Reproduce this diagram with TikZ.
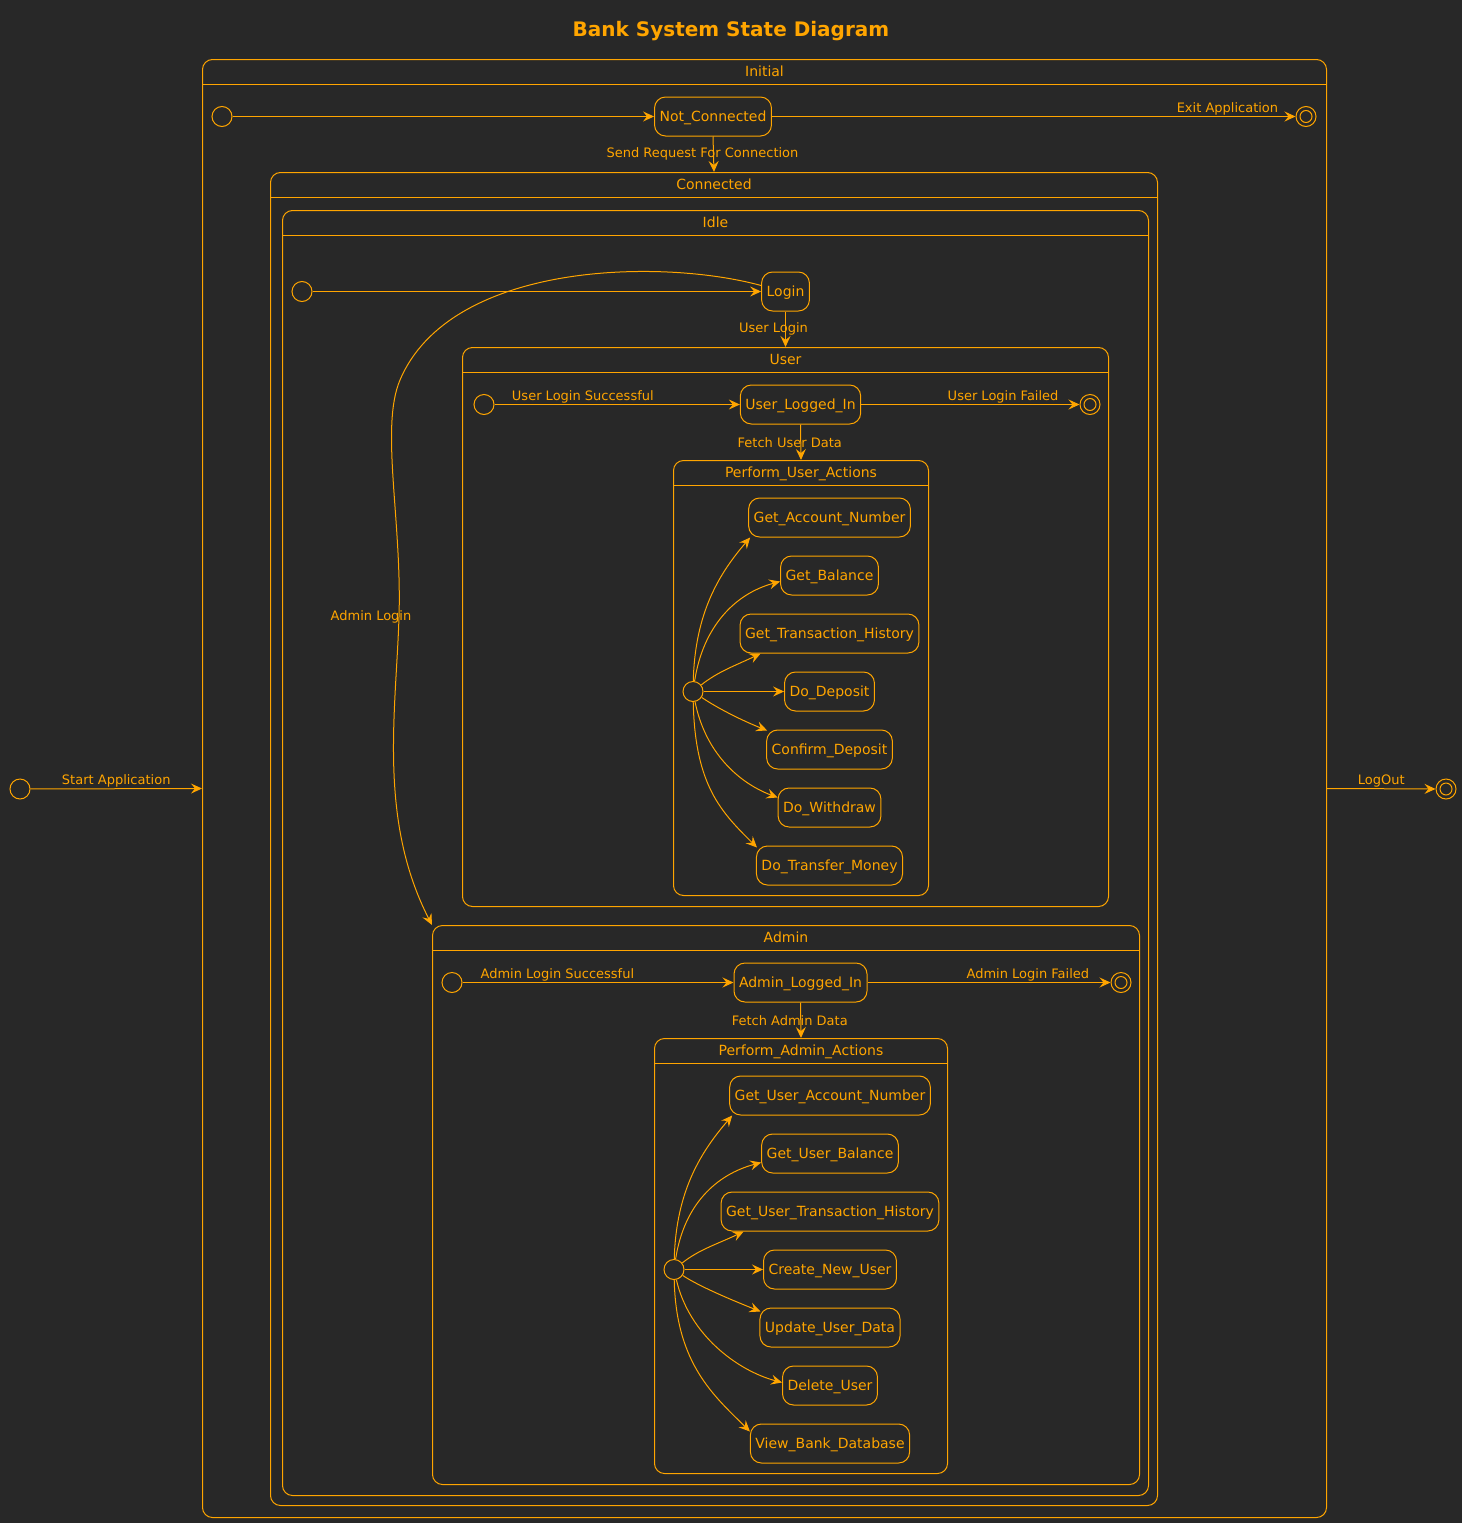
\documentclass[tikz,border=0pt]{standalone}
\usepackage{fontspec}
\setmainfont{DejaVu Sans}
\usetikzlibrary{arrows.meta,calc}
\definecolor{bg}{HTML}{282828}
\definecolor{ink}{HTML}{FFA500}

\begin{document}
\begin{tikzpicture}[x=1pt,y=-1pt,
  stbox/.style={draw=ink, line width=1pt, rounded corners=11pt, text=ink,
    font=\fontsize{14}{17}\selectfont, minimum height=39pt, inner xsep=5pt, inner ysep=0pt,
    text depth=0pt},
  region/.style={draw=ink, line width=1pt, rounded corners=10pt, anchor=north west, inner sep=0pt},
  rtitle/.style={text=ink, font=\fontsize{14}{17}\selectfont, inner sep=0pt, text depth=0pt},
  lbl/.style={text=ink, font=\fontsize{13}{15}\selectfont, inner sep=0pt},
  hlbl/.style={lbl, anchor=base, yshift=4pt},
  startdot/.style={circle, draw=ink, line width=1pt, minimum size=20pt, inner sep=0pt},
  enddot/.style={circle, draw=ink, line width=1pt, minimum size=20pt, inner sep=0pt,
    path picture={\draw[ink, line width=1pt] (path picture bounding box.center) circle[radius=6pt];}},
  arr/.style={draw=ink, line width=1pt, -{Stealth[length=11pt,width=10pt,inset=4pt]}},
  hdr/.style={draw=ink, line width=1pt}
]
% canvas
\fill[bg] (0,0) rectangle (1462,1523);

\node[text=ink, font=\fontsize{20}{24}\selectfont\bfseries, text depth=0pt] (title) at (731,29) {Bank System State Diagram};

% composite regions
\node[region, minimum width=1124pt, minimum height=1458pt] (initial) at (202,59) {};
\node[region, minimum width=887pt, minimum height=1333pt] (connected) at (270,172) {};
\node[region, minimum width=866pt, minimum height=1285pt] (idle) at (282,210) {};
\node[region, minimum width=646pt, minimum height=559pt] (user) at (462,347) {};
\node[region, minimum width=255pt, minimum height=435pt] (pua) at (673,460) {};
\node[region, minimum width=707pt, minimum height=559pt] (admin) at (432,925) {};
\node[region, minimum width=293pt, minimum height=435pt] (paa) at (654,1038) {};

\foreach \r/\t in {initial/Initial, connected/Connected, idle/Idle, user/User,
                   pua/Perform\_User\_Actions, admin/Admin, paa/Perform\_Admin\_Actions}{
  \draw[hdr] ($(\r.north west)+(0,25)$) -- ($(\r.north east)+(0,25)$);
  \node[rtitle] at ($(\r.north)+(0,12.5)$) {\t};
}

% top level
\node[startdot] (s0) at (20,789) {};
\node[enddot] (e0) at (1446,789) {};
\draw[arr] (s0) -- (initial.west) node[hlbl, pos=.5] {Start Application};
\draw[arr] (initial.east) -- (e0) node[hlbl, pos=.5] {LogOut};

% Initial
\node[startdot] (s1) at (222,116.5) {};
\node[stbox] (notconn) at (713,116.5) {Not\_Connected};
\node[enddot] (e1) at (1306,116.5) {};
\draw[arr] (s1) -- (notconn);
\draw[arr] (notconn) -- (e1) node[hlbl, pos=.87] {Exit Application};
\draw[arr] (notconn.south) -- (connected.north)
  node[lbl, midway, xshift=-11pt] {Send Request For Connection};

% Idle
\node[startdot] (s2) at (302,291.5) {};
\node[stbox] (login) at (785.5,291.5) {Login};
\draw[arr] (s2) -- (login);
\draw[arr] (login.south) -- (user.north) node[lbl, midway, xshift=-12pt] {User Login};
\draw[arr] ([yshift=6pt]login.west) .. controls (660,258) and (450,262) .. (400,380)
  .. controls (380,427) and (402,520) .. (399,617) node[lbl, xshift=-28pt] {Admin Login}
  .. controls (396,712) and (378,820) .. (admin.north west);

% User
\node[startdot] (s3) at (484,404.5) {};
\node[stbox] (uli) at (800.5,404.5) {User\_Logged\_In};
\node[enddot] (e3) at (1090,404.5) {};
\draw[arr] (s3) -- (uli) node[hlbl, pos=.36] {User Login Successful};
\draw[arr] (uli) -- (e3) node[hlbl, pos=.65] {User Login Failed};
\draw[arr] (uli.south) -- (pua.north) node[lbl, midway, xshift=-11pt] {Fetch User Data};

% Perform_User_Actions
\node[startdot] (uf) at (693,691.5) {};
\node[stbox] (gan) at (829.5,517.5) {Get\_Account\_Number};
\node[stbox] (gb) at (829.5,575.5) {Get\_Balance};
\node[stbox] (gth) at (829.5,633.5) {Get\_Transaction\_History};
\node[stbox] (dd) at (829.5,691.5) {Do\_Deposit};
\node[stbox] (cd) at (829.5,749.5) {Confirm\_Deposit};
\node[stbox] (dw) at (829.5,807.5) {Do\_Withdraw};
\node[stbox] (dtm) at (829.5,865.5) {Do\_Transfer\_Money};
\draw[arr] (uf) .. controls +(2,-80) and +(-30,35) .. ([xshift=2pt]gan.south west);
\draw[arr] (uf) .. controls +(10,-65) and +(-45,12) .. ([yshift=-6pt]gb.west);
\draw[arr] (uf) .. controls +(25,-20) and +(-25,12) .. ([xshift=21pt]gth.south west);
\draw[arr] (uf) -- (dd);
\draw[arr] (uf) .. controls +(25,17) and +(-25,-10) .. ([xshift=1pt,yshift=-1pt]cd.north west);
\draw[arr] (uf) .. controls +(12,60) and +(-40,-15) .. ([yshift=10pt]dw.west);
\draw[arr] (uf) .. controls +(2,95) and +(-35,-35) .. ([xshift=1pt,yshift=-2pt]dtm.north west);

% Admin
\node[startdot] (s4) at (452,982.5) {};
\node[stbox] (ali) at (800.5,982.5) {Admin\_Logged\_In};
\node[enddot] (e4) at (1121,982.5) {};
\draw[arr] (s4) -- (ali) node[hlbl, pos=.35] {Admin Login Successful};
\draw[arr] (ali) -- (e4) node[hlbl, pos=.66] {Admin Login Failed};
\draw[arr] (ali.south) -- (paa.north) node[lbl, midway, xshift=-11pt] {Fetch Admin Data};

% Perform_Admin_Actions
\node[startdot] (af) at (674,1269.5) {};
\node[stbox] (guan) at (830,1095.5) {Get\_User\_Account\_Number};
\node[stbox] (gub) at (830,1153.5) {Get\_User\_Balance};
\node[stbox] (guth) at (830,1211.5) {Get\_User\_Transaction\_History};
\node[stbox] (cnu) at (830,1269.5) {Create\_New\_User};
\node[stbox] (uud) at (830,1327.5) {Update\_User\_Data};
\node[stbox] (du) at (830,1385.5) {Delete\_User};
\node[stbox] (vbd) at (830,1443.5) {View\_Bank\_Database};
\draw[arr] (af) .. controls +(2,-80) and +(-30,35) .. ([xshift=3pt]guan.south west);
\draw[arr] (af) .. controls +(10,-65) and +(-45,12) .. ([yshift=-9pt]gub.west);
\draw[arr] (af) .. controls +(25,-20) and +(-25,12) .. ([xshift=23pt]guth.south west);
\draw[arr] (af) -- (cnu);
\draw[arr] (af) .. controls +(25,17) and +(-25,-10) .. ([xshift=1pt,yshift=-4pt]uud.north west);
\draw[arr] (af) .. controls +(15,65) and +(-45,-12) .. ([yshift=3pt]du.west);
\draw[arr] (af) .. controls +(2,95) and +(-35,-35) .. ([yshift=-8pt]vbd.north west);
\end{tikzpicture}
\end{document}
